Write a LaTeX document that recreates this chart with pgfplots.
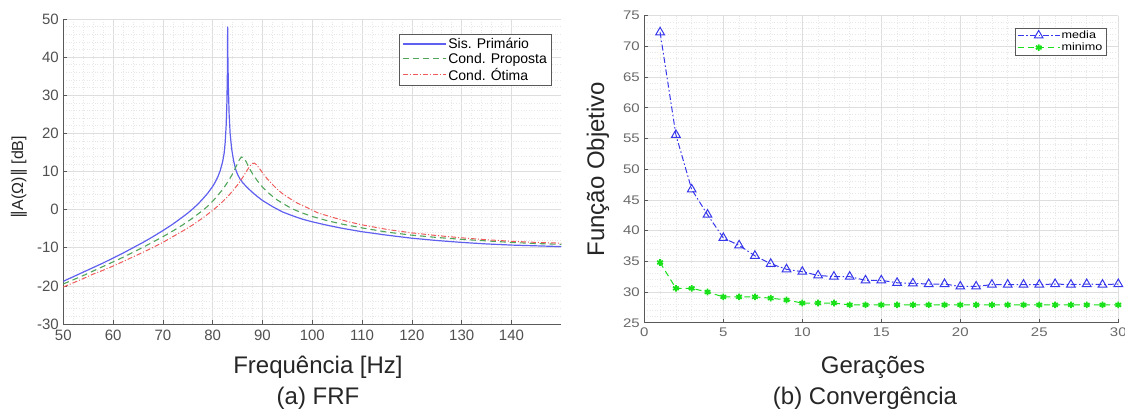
\documentclass[border=0pt]{standalone}
\usepackage{pgfplots}
\pgfplotsset{compat=1.18}
\usepackage{fontspec}
\setmainfont{Liberation Sans}
\newfontfamily\dejavu{DejaVu Sans}
\newfontfamily\widesans[FakeStretch=1.2]{Liberation Sans}
\definecolor{cprim}{RGB}{95,95,240}
\definecolor{cprop}{RGB}{80,165,90}
\definecolor{cotim}{RGB}{240,90,90}
\definecolor{cmed}{RGB}{55,55,235}
\definecolor{cmin}{RGB}{25,225,25}
\definecolor{tickgray}{RGB}{80,80,80}
\definecolor{tickgrayb}{RGB}{105,105,105}
\definecolor{gmaj}{RGB}{222,222,222}
\definecolor{gmin}{RGB}{232,232,232}
\pgfplotsset{
  common/.style={
    scale only axis,
    axis x line*=bottom, axis y line*=left,
    axis line style={black!65, line width=0.8pt, -},
    tick align=inside,
    major tick length=4pt, minor tick length=0pt,
    tick style={black!65, line width=0.7pt},
    grid=both,
    major grid style={gmaj, line width=0.6pt},
    minor grid style={gmin, line width=0.6pt, dotted},
    /pgf/number format/assume math mode=true,
    clip=true,
  }
}
\begin{document}
\begin{tikzpicture}
\useasboundingbox (0pt,0pt) rectangle (1125pt,412pt);
% ---------------- (a) FRF ----------------
\begin{axis}[common,
  at={(63.3pt,88pt)}, anchor=south west,
  width=498pt, height=305pt,
  xmin=50, xmax=150, ymin=-30, ymax=50,
  xtick={50,60,...,140}, ytick={-30,-20,...,50},
  minor x tick num=4, minor y tick num=4,
  tick label style={font=\fontsize{15}{18}\selectfont, text=tickgray},
  xticklabel style={yshift=-2pt},
  yticklabel style={xshift=-1pt},
  legend style={at={(1,1)}, anchor=north east, xshift=-9.6pt, yshift=-15.3pt,
    font=\fontsize{14}{16}\selectfont, draw=black!65,
    fill=white, inner xsep=3pt, inner ysep=2pt, row sep=0pt,
    nodes={inner sep=1.6pt}},
  legend cell align=left,
  legend image code/.code={\draw[#1] (0pt,0pt) -- (43pt,0pt);},
]
\addplot[color=cprim, line width=1.2pt] coordinates {
(50,-18.8)(52,-17.6)(54,-16.4)(56,-15.2)(58,-14.0)(60,-12.7)(62,-11.4)(64,-10.0)
(66,-8.6)(68,-7.1)(70,-5.5)(72,-3.8)(74,-1.9)(75,-0.9)(76,0.2)(77,1.4)(78,2.8)
(79,4.3)(80,6.1)(80.5,7.2)(81,8.5)(81.5,10.2)(82,12.6)(82.3,14.8)(82.5,17.5)
(82.7,22)(82.85,28)(82.95,36)(83.0,48)(83.05,40)(83.15,32)(83.3,25)(83.5,20)
(83.8,16)(84.2,12.8)(84.6,10.6)(85,9.2)(85.5,8.0)(86,7.1)(87,5.7)(88,4.5)(89,3.4)
(90,2.4)(92,0.8)(94,-0.6)(96,-1.6)(98,-2.5)(100,-3.2)(103,-4.1)(106,-4.9)(110,-5.8)
(115,-6.7)(120,-7.5)(125,-8.1)(130,-8.6)(135,-9.0)(140,-9.3)(145,-9.5)(150,-9.7)};
\addlegendentry{Sis. Primário}
\addplot[color=cprop, line width=1.1pt, dash pattern=on 6pt off 4pt] coordinates {
(50,-19.5)(52,-18.4)(54,-17.3)(56,-16.1)(58,-14.9)(60,-13.7)(62,-12.5)(64,-11.2)
(66,-9.9)(68,-8.5)(70,-7.1)(72,-5.6)(74,-4.0)(76,-2.2)(78,-0.2)(79,0.9)(80,2.2)
(81,3.7)(82,5.3)(83,7.2)(84,9.4)(84.8,11.6)(85.4,13.2)(85.8,13.8)(86.2,13.6)
(86.7,12.6)(87.3,11.0)(88,9.4)(89,7.5)(90,5.9)(91,4.6)(92,3.5)(93,2.5)(94.5,1.3)
(96,0.2)(98,-0.9)(100,-1.8)(103,-2.9)(106,-3.8)(110,-4.8)(115,-5.9)(120,-6.7)
(125,-7.3)(130,-7.8)(135,-8.2)(140,-8.6)(145,-8.9)(150,-9.1)};
\addlegendentry{Cond. Proposta}
\addplot[color=cotim, line width=1pt, dash pattern=on 5pt off 2pt on 1pt off 2pt] coordinates {
(50,-20.3)(52,-19.2)(54,-18.1)(56,-16.9)(58,-15.9)(60,-14.8)(62,-13.6)(64,-12.4)
(66,-11.2)(68,-9.9)(70,-8.6)(72,-7.1)(74,-5.6)(76,-4.0)(78,-2.2)(80,-0.2)(81,0.9)
(82,2.1)(83,3.4)(84,4.9)(85,6.5)(86,8.4)(86.8,10.1)(87.5,11.5)(88,12.1)(88.4,12.2)
(88.9,11.6)(89.5,10.6)(90.2,9.3)(91,8.0)(92,6.6)(93,5.3)(94,4.2)(95.5,2.9)(97,1.7)
(99,0.5)(101,-0.8)(104,-2.0)(107,-3.1)(110,-4.0)(115,-5.2)(120,-6.1)(125,-6.8)
(130,-7.4)(135,-7.9)(140,-8.3)(145,-8.6)(150,-8.8)};
\addlegendentry{Cond. Ótima}
\end{axis}
% ---------------- (b) Convergencia ----------------
\begin{axis}[common,
  at={(644.3pt,89.3pt)}, anchor=south west,
  width=474pt, height=307pt,
  xmin=0, xmax=30, ymin=25, ymax=75,
  xtick={0,5,...,30}, ytick={25,30,...,75},
  minor x tick num=4, minor y tick num=4,
  tick label style={font=\widesans\fontsize{12.5}{15}\selectfont, text=tickgrayb},
  xticklabel style={yshift=-2pt},
  yticklabel style={xshift=-1pt},
  legend style={at={(1,1)}, anchor=north east, xshift=-12.3pt, yshift=-12pt,
    font=\widesans\fontsize{10.5}{12}\selectfont, draw=black!65,
    fill=white, inner xsep=2pt, inner ysep=1.5pt, row sep=0pt,
    nodes={inner sep=1.5pt}},
  legend cell align=left,
  legend image code/.code={\draw[#1, mark repeat=2, mark phase=2] plot coordinates {(0pt,0pt) (21pt,0pt) (42pt,0pt)};},
]
\addplot[color=cmed, line width=1pt, dash pattern=on 6pt off 2.5pt on 1.5pt off 2.5pt,
  mark=triangle, mark size=5pt, mark options={solid, line width=1pt}] coordinates {
(1,72.3)(2,55.6)(3,46.7)(4,42.6)(5,38.8)(6,37.6)(7,35.9)(8,34.6)(9,33.7)(10,33.3)
(11,32.7)(12,32.5)(13,32.5)(14,31.9)(15,31.9)(16,31.5)(17,31.4)(18,31.3)(19,31.3)
(20,30.9)(21,30.9)(22,31.2)(23,31.2)(24,31.2)(25,31.2)(26,31.3)(27,31.2)(28,31.3)
(29,31.2)(30,31.3)};
\addlegendentry{media}
\addplot[color=cmin, line width=1pt, dash pattern=on 6pt off 4pt,
  mark=asterisk, mark size=3.3pt, mark options={solid, line width=1.8pt}] coordinates {
(1,34.8)(2,30.6)(3,30.6)(4,30.0)(5,29.2)(6,29.2)(7,29.2)(8,29.0)(9,28.7)(10,28.2)
(11,28.2)(12,28.2)(13,27.9)(14,27.9)(15,27.9)(16,27.9)(17,27.9)(18,27.9)(19,27.9)
(20,27.9)(21,27.9)(22,27.9)(23,27.9)(24,27.9)(25,27.9)(26,27.9)(27,27.9)(28,27.9)
(29,27.9)(30,27.9)};
\addlegendentry{minimo}
\end{axis}
% ---------------- labels ----------------
\node[font=\fontsize{16}{18}\selectfont, rotate=90, text=black!85] at (19pt,235pt)
  {{\dejavu ‖}A(Ω){\dejavu ‖} [dB]};
\node[font=\fontsize{24}{28}\selectfont, text=black!85] at (318pt,45pt) {Frequência [Hz]};
\node[font=\fontsize{24}{28}\selectfont, text=black!85] at (318pt,14pt) {(a) FRF};
\node[font=\fontsize{24}{28}\selectfont, rotate=90, text=black!85] at (598pt,243pt) {Função Objetivo};
\node[font=\fontsize{24}{28}\selectfont, text=black!85] at (873pt,45pt) {Gerações};
\node[font=\fontsize{24}{28}\selectfont, text=black!85] at (865pt,14pt) {(b) Convergência};
\end{tikzpicture}
\end{document}
